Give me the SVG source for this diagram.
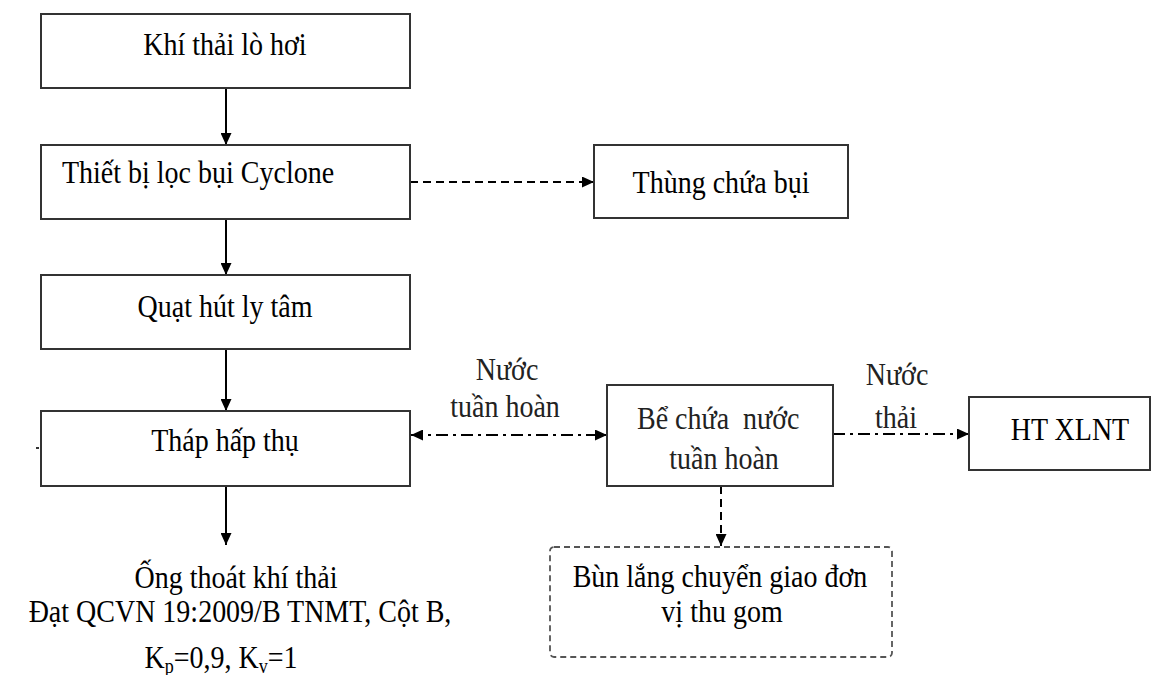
<svg xmlns="http://www.w3.org/2000/svg" width="1161" height="675" viewBox="0 0 1161 675">
  <defs>
    <marker id="arrow" viewBox="0 0 12 11" refX="12" refY="5.5" markerWidth="12" markerHeight="11" markerUnits="userSpaceOnUse" orient="auto-start-reverse">
      <path d="M0,0 L12,5.5 L0,11 z" fill="#000"/>
    </marker>
    <style>
      .box { fill: #fff; stroke: #333; stroke-width: 2; }
      .dbox { fill: #fff; stroke: #555; stroke-width: 1.8; stroke-dasharray: 6 4; }
      .lbl { font-family: "Liberation Serif", "Times New Roman", serif; font-size: 28px; fill: #000; }
      .gray { fill: #222; }
      .mid { text-anchor: middle; }
      .solid { fill: none; stroke: #000; stroke-width: 2; }
      .dash { fill: none; stroke: #000; stroke-width: 2; stroke-dasharray: 8 5; }
      .dashdot { fill: none; stroke: #000; stroke-width: 2; stroke-dasharray: 12 5 3 5; }
      .sub { font-size: 18px; }
    </style>
  </defs>

  <rect width="1161" height="675" fill="#fff"/>

  <!-- connectors -->
  <g id="connectors">
    <line class="solid" x1="226" y1="88" x2="226" y2="145" marker-end="url(#arrow)"/>
    <line class="solid" x1="226" y1="219" x2="226" y2="275" marker-end="url(#arrow)"/>
    <line class="solid" x1="226" y1="349" x2="226" y2="411" marker-end="url(#arrow)"/>
    <line class="solid" x1="226" y1="486" x2="226" y2="545" marker-end="url(#arrow)"/>
    <line class="dash" x1="410" y1="182" x2="594" y2="182" marker-end="url(#arrow)"/>
    <line class="dashdot" x1="411" y1="435" x2="607" y2="435" marker-start="url(#arrow)" marker-end="url(#arrow)"/>
    <line class="dashdot" x1="833" y1="434" x2="969" y2="434" marker-end="url(#arrow)"/>
    <line class="dash" x1="721" y1="486" x2="721" y2="546" marker-end="url(#arrow)"/>
    <!-- edge labels -->
    <text class="lbl mid gray" transform="translate(507,380) scale(1,1.16)">Nước</text>
    <text class="lbl mid gray" transform="translate(505,417) scale(1,1.16)">tuần hoàn</text>
    <text class="lbl mid gray" transform="translate(897,385) scale(1,1.16)">Nước</text>
    <text class="lbl mid gray" transform="translate(896,428) scale(1,1.16)">thải</text>
  </g>

  <g id="khi-thai-lo-hoi">
    <rect class="box" x="41" y="14" width="369" height="74"/>
    <text class="lbl mid" transform="translate(225,55) scale(1,1.16)">Khí thải lò hơi</text>
  </g>

  <g id="cyclone">
    <rect class="box" x="41" y="145" width="369" height="74"/>
    <text class="lbl" transform="translate(62,183) scale(1,1.16)">Thiết bị lọc bụi Cyclone</text>
  </g>

  <g id="thung-chua-bui">
    <rect class="box" x="594" y="145" width="254" height="73"/>
    <text class="lbl mid" transform="translate(721,193) scale(1,1.16)">Thùng chứa bụi</text>
  </g>

  <g id="quat-hut">
    <rect class="box" x="41" y="275" width="369" height="74"/>
    <text class="lbl mid" transform="translate(225,317) scale(1,1.16)">Quạt hút ly tâm</text>
  </g>

  <g id="thap-hap-thu">
    <rect class="box" x="41" y="411" width="369" height="75"/>
    <rect x="36" y="447" width="3" height="2" fill="#333"/>
    <text class="lbl mid" transform="translate(225,451) scale(1,1.16)">Tháp hấp thụ</text>
  </g>

  <g id="be-chua-nuoc">
    <rect class="box" x="607" y="385" width="226" height="101"/>
    <text class="lbl gray" xml:space="preserve" transform="translate(637,429) scale(1,1.16)">Bể chứa  nước</text>
    <text class="lbl mid gray" transform="translate(724,469) scale(1,1.16)">tuần hoàn</text>
  </g>

  <g id="ht-xlnt">
    <rect class="box" x="969" y="397" width="181" height="73"/>
    <text class="lbl mid" transform="translate(1070,440) scale(1,1.16)">HT XLNT</text>
  </g>

  <g id="bun-lang">
    <rect class="dbox" x="550" y="547" width="342" height="110" rx="4"/>
    <text class="lbl mid" transform="translate(720,587) scale(1,1.16)">Bùn lắng chuyển giao đơn</text>
    <text class="lbl mid" transform="translate(722,622) scale(1,1.16)">vị thu gom</text>
  </g>

  <g id="ong-thoat-khi-thai">
    <text class="lbl mid" transform="translate(236,588) scale(1,1.16)">Ống thoát khí thải</text>
    <text class="lbl mid" transform="translate(240,622) scale(1,1.16)">Đạt QCVN 19:2009/B TNMT, Cột B,</text>
    <text class="lbl mid" transform="translate(221,668) scale(1,1.16)">K<tspan class="sub" dy="4">p</tspan><tspan dy="-4">=0,9, K</tspan><tspan class="sub" dy="4">v</tspan><tspan dy="-4">=1</tspan></text>
  </g>
</svg>
